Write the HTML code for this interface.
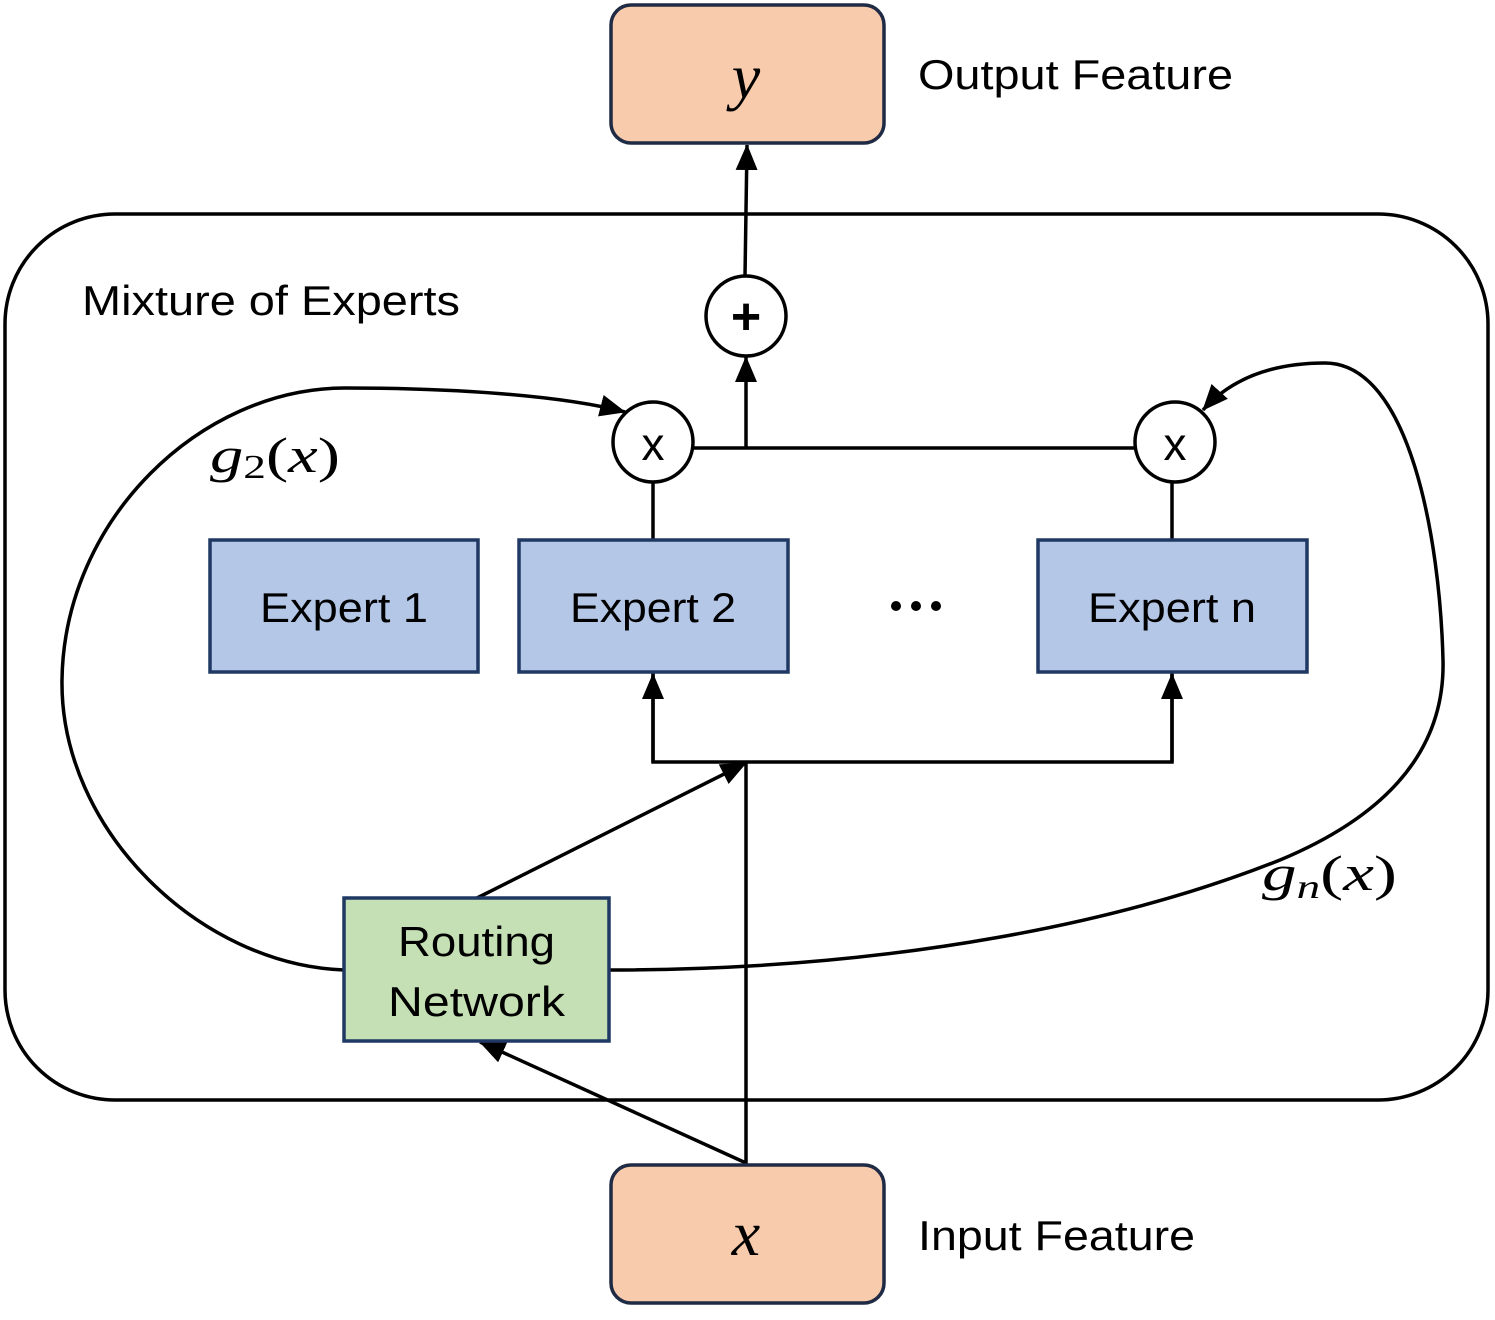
<!DOCTYPE html>
<html><head><meta charset="utf-8"><style>body{margin:0;background:#fff}</style></head><body>
<svg width="1495" height="1315" viewBox="0 0 1495 1315" xmlns="http://www.w3.org/2000/svg">
<defs>
<marker id="b" markerWidth="26" markerHeight="26" refX="25" refY="13" orient="auto" markerUnits="userSpaceOnUse" viewBox="0 0 26 26"><path d="M0,2 L26,13 L0,24z" fill="#000"/></marker></defs>
<rect x="5" y="214" width="1483" height="886" rx="110" fill="none" stroke="#000" stroke-width="3.5"/>
<g stroke="#000" stroke-width="3.5" fill="none">
<line x1="745" y1="276" x2="747" y2="145" marker-end="url(#b)"/>
<line x1="746" y1="448" x2="746" y2="357" marker-end="url(#b)"/>
<line x1="693" y1="448" x2="1135" y2="448"/>
<line x1="653" y1="482" x2="653" y2="540"/>
<line x1="1172" y1="482" x2="1172" y2="540"/>
<polyline points="653,672 653,762 1172,762 1172,672"/>
<line x1="653" y1="762" x2="653" y2="674" marker-end="url(#b)"/>
<line x1="1172" y1="762" x2="1172" y2="674" marker-end="url(#b)"/>
<line x1="746" y1="1165" x2="746" y2="762"/>
<line x1="477" y1="898" x2="746" y2="763" marker-end="url(#b)"/>
<line x1="746" y1="1163" x2="480" y2="1042" marker-end="url(#b)"/>
<path d="M344,970 C200,965 60,830 62,680 C64,520 200,388 345,388 C450,388 560,395 625,412" marker-end="url(#b)"/>
<path d="M609,970 C900,970 1130,920 1280,860 C1400,810 1445,740 1443,660 C1440,540 1410,363 1325,363 C1270,363 1230,380 1203,410" marker-end="url(#b)"/>
</g>
<rect x="611" y="5" width="273" height="138" rx="20" fill="#F8CBAD" stroke="#1f2a44" stroke-width="3.5"/>
<rect x="611" y="1165" width="273" height="138" rx="20" fill="#F8CBAD" stroke="#1f2a44" stroke-width="3.5"/>
<g fill="#B4C7E7" stroke="#1f3864" stroke-width="3.5">
<rect x="210" y="540" width="268" height="132"/><rect x="519" y="540" width="269" height="132"/><rect x="1038" y="540" width="269" height="132"/></g>
<rect x="344" y="898" width="265" height="143" fill="#C5E0B4" stroke="#1f3864" stroke-width="3.5"/>
<g fill="#fff" stroke="#000" stroke-width="3.5"><circle cx="746" cy="316" r="40"/><circle cx="653" cy="442" r="40"/><circle cx="1175" cy="442" r="40"/></g>
<g font-family="Liberation Sans, sans-serif" fill="#000">
<text x="746" y="334" font-size="52" text-anchor="middle" font-weight="bold">+</text>
<text x="653" y="460" font-size="46" text-anchor="middle">x</text>
<text x="1175" y="460" font-size="46" text-anchor="middle">x</text>
<g font-size="42" lengthAdjust="spacingAndGlyphs">
<text x="260" y="622" textLength="168" lengthAdjust="spacingAndGlyphs">Expert 1</text>
<text x="570" y="622" textLength="166" lengthAdjust="spacingAndGlyphs">Expert 2</text>
<text x="1088" y="622" textLength="168" lengthAdjust="spacingAndGlyphs">Expert n</text>
<text x="398" y="956" textLength="157" lengthAdjust="spacingAndGlyphs">Routing</text>
<text x="388" y="1016" textLength="177" lengthAdjust="spacingAndGlyphs">Network</text>
<text x="918" y="89" textLength="315" lengthAdjust="spacingAndGlyphs">Output Feature</text>
<text x="918" y="1250" textLength="277" lengthAdjust="spacingAndGlyphs">Input Feature</text>
<text x="82" y="315" textLength="378" lengthAdjust="spacingAndGlyphs">Mixture of Experts</text>
</g>
<circle cx="896" cy="606" r="5"/><circle cx="916" cy="606" r="5"/><circle cx="936" cy="606" r="5"/>
</g>
<g font-family="Liberation Serif, serif" font-style="italic" fill="#000">
<text x="746" y="98" font-size="64" text-anchor="middle">y</text>
<text x="746" y="1255" font-size="64" text-anchor="middle">x</text>
<text x="210" y="472" font-size="50" textLength="130" lengthAdjust="spacingAndGlyphs">g<tspan font-size="34" font-style="normal" dy="6">2</tspan><tspan dy="-6" font-style="normal">(</tspan>x<tspan font-style="normal">)</tspan></text>
<text x="1262" y="890" font-size="50" textLength="135" lengthAdjust="spacingAndGlyphs">g<tspan font-size="34" dy="8">n</tspan><tspan dy="-8" font-style="normal">(</tspan>x<tspan font-style="normal">)</tspan></text>
</g>
</svg>
</body></html>
